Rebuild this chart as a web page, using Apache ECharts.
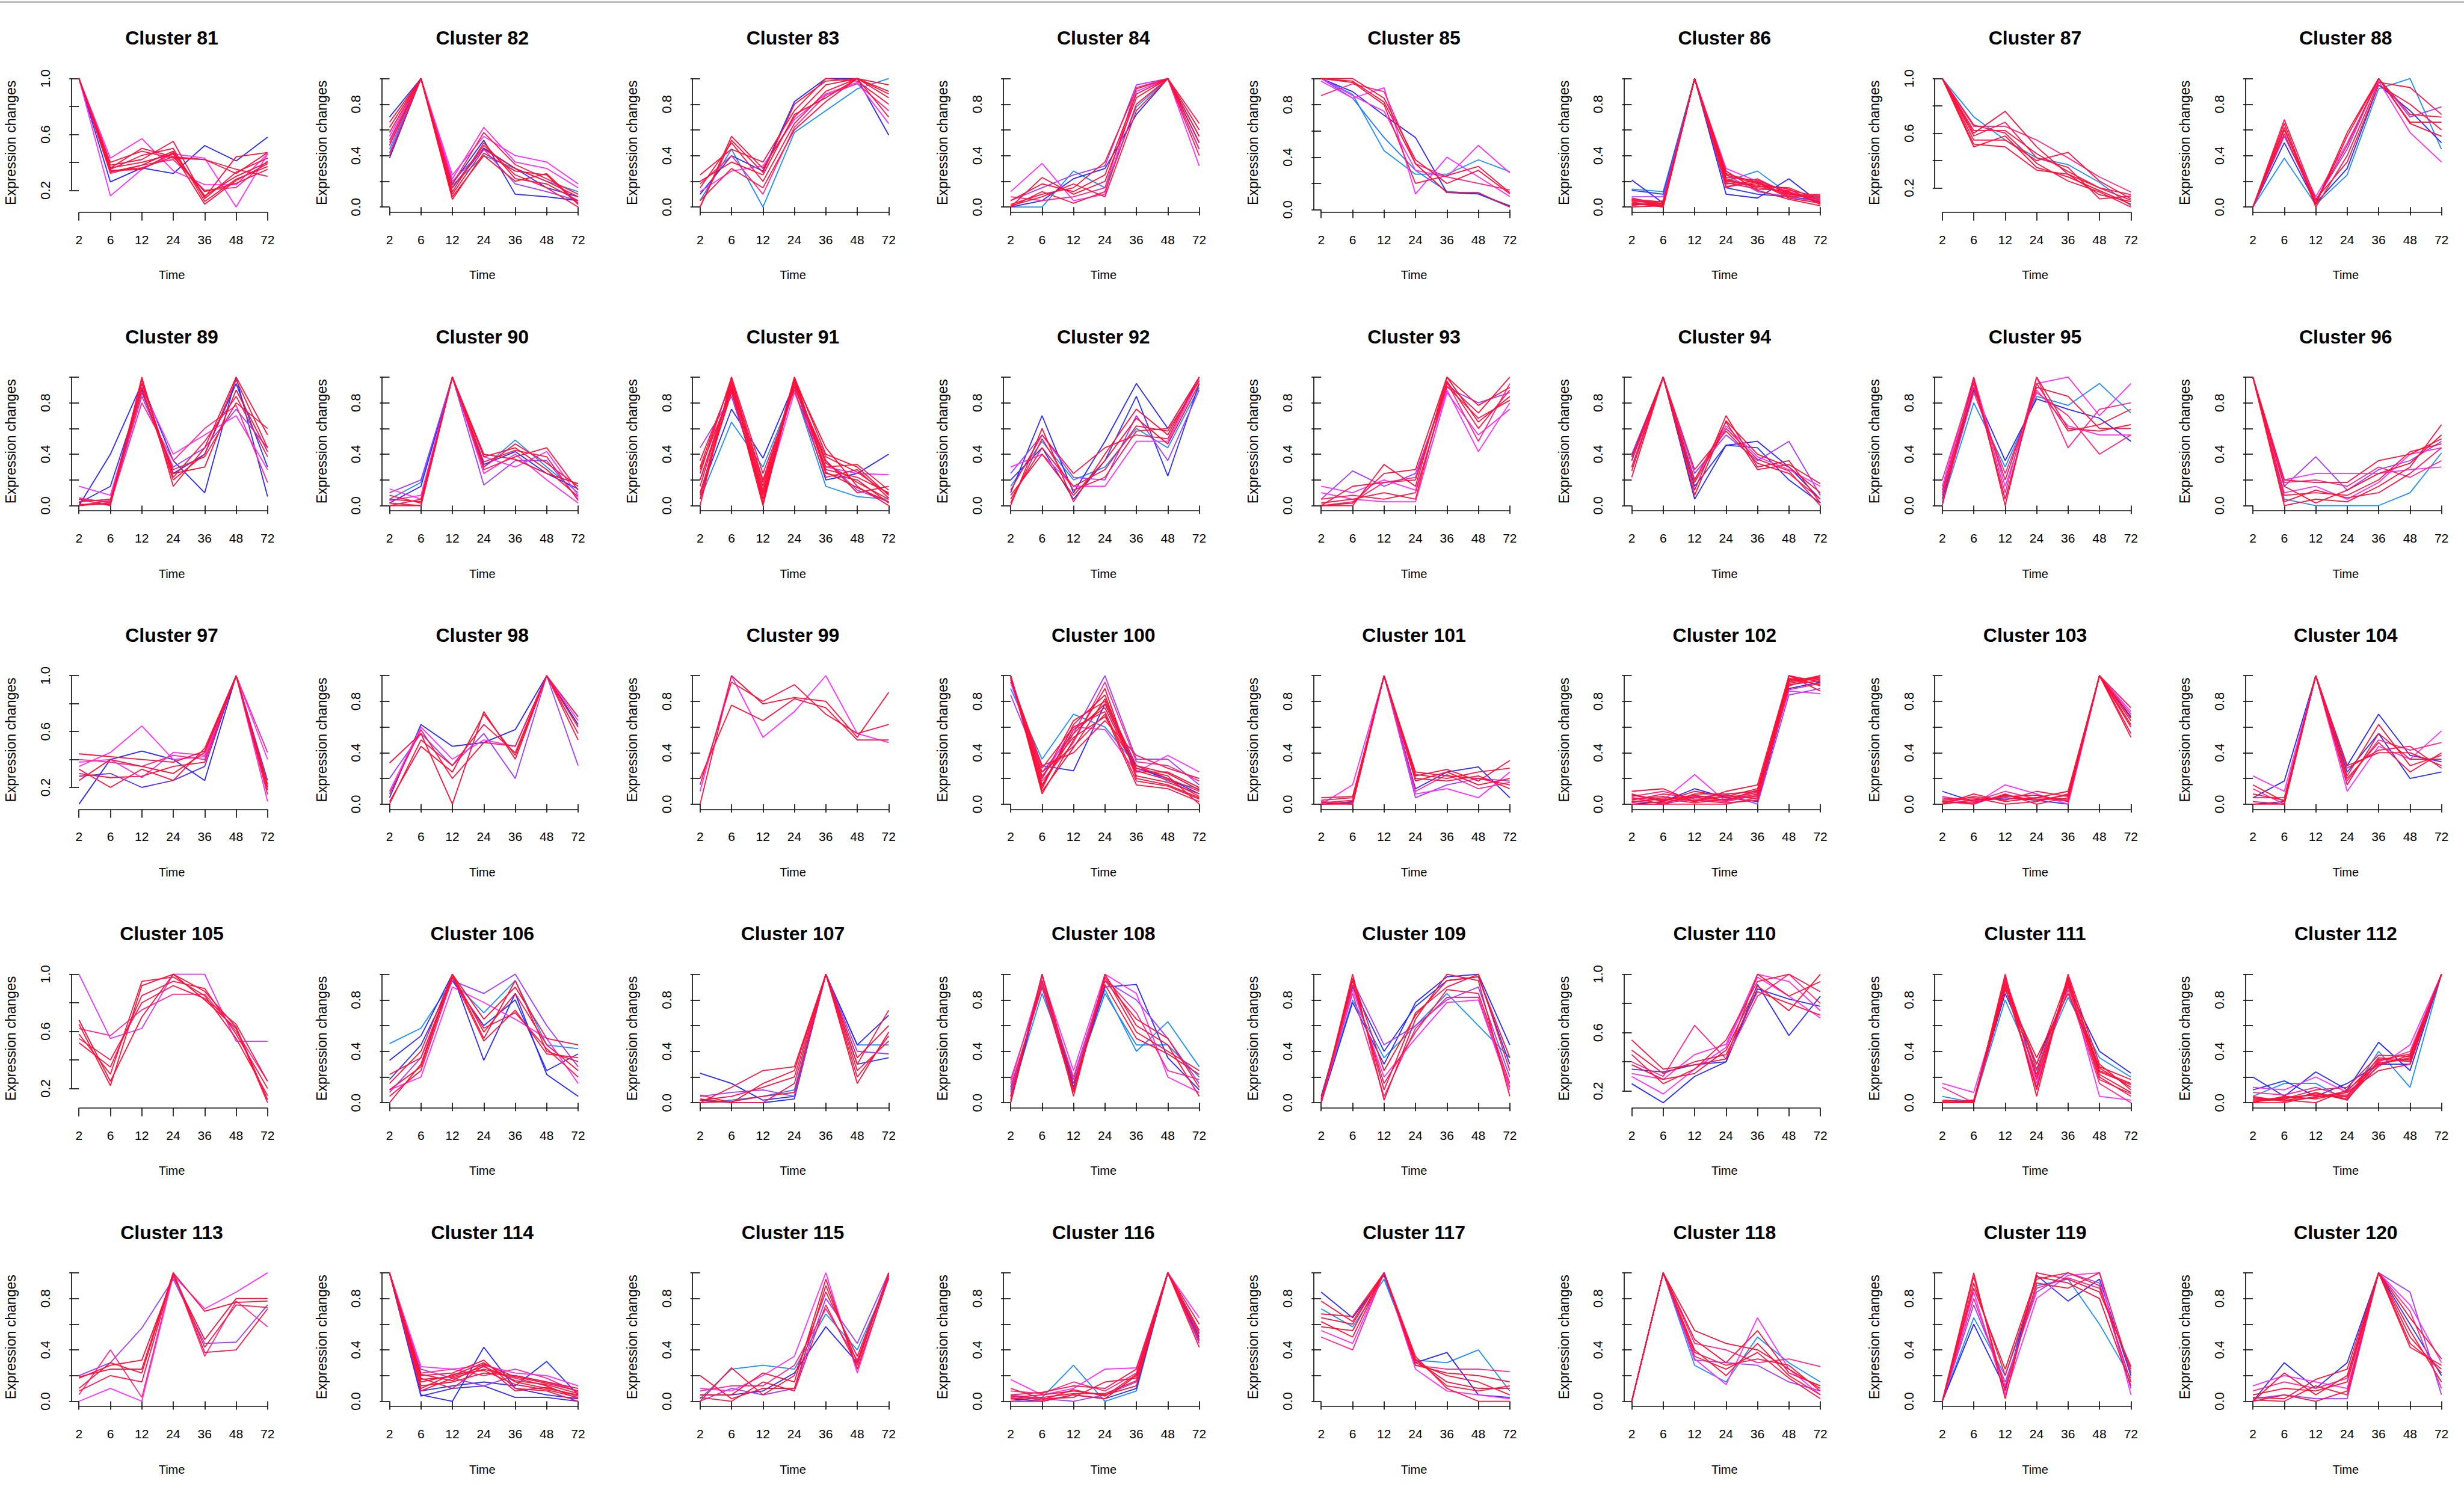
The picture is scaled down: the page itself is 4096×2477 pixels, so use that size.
<!DOCTYPE html>
<html>
<head>
<meta charset="utf-8">
<script src="https://cdn.jsdelivr.net/npm/echarts@6/dist/echarts.min.js"></script>
<style>
html,body{margin:0;padding:0;background:#fff;}
#chart{width:4096px;height:2477px;}
</style>
</head>
<body>
<div id="chart"></div>
<script>
const timeLabels = ['2','6','12','24','36','48','72'];
const clusterIds = [81,82,83,84,85,86,87,88,89,90,91,92,93,94,95,96,97,98,99,100,101,102,103,104,105,106,107,108,109,110,111,112,113,114,115,116,117,118,119,120];
const xTitle = 'Time';
const yTitle = 'Expression changes';

const c81 = [[1,0.26,0.36,0.32,0.52,0.41,0.58],[1,0.16,0.35,0.46,0.43,0.08,0.46],[1,0.43,0.57,0.34,0.24,0.24,0.46],[1,0.34,0.35,0.47,0.16,0.30,0.40],[1,0.35,0.45,0.50,0.12,0.28,0.37],[1,0.36,0.50,0.44,0.19,0.25,0.35],[1,0.38,0.42,0.55,0.14,0.33,0.43],[1,0.34,0.36,0.44,0.42,0.32,0.47],[1,0.33,0.38,0.48,0.15,0.44,0.47],[1,0.40,0.48,0.43,0.42,0.35,0.30],[1,0.36,0.40,0.46,0.10,0.27,0.39],[1,0.32,0.38,0.42,0.20,0.22,0.41]];
const m81 = [0.22,0.58,0.6,0.95,0.92,0.97,0.9,0.93,0.96,0.88,0.94,0.8];
const c82 = [[0.38,1,0.18,0.52,0.10,0.08,0.05],[0.70,1,0.15,0.46,0.30,0.15,0.08],[0.45,1,0.17,0.40,0.30,0.20,0.12],[0.55,1,0.25,0.55,0.40,0.35,0.18],[0.50,1,0.22,0.62,0.35,0.30,0.15],[0.42,1,0.20,0.45,0.18,0.12,0.05],[0.48,1,0.06,0.42,0.28,0.25,0.02],[0.58,1,0.12,0.50,0.22,0.18,0.05],[0.62,1,0.10,0.45,0.30,0.20,0.08],[0.40,1,0.15,0.48,0.25,0.15,0.00],[0.52,1,0.18,0.58,0.33,0.22,0.10],[0.66,1,0.08,0.40,0.20,0.26,0.03]];
const m82 = [0.22,0.2,0.05,0.58,0.62,0.42,0.95,0.92,0.97,0.9,0.88,0.94];
const c83 = [[0.05,0.45,0.00,0.58,0.75,0.92,1.0],[0.10,0.40,0.28,0.82,1.0,1.0,0.56],[0.00,0.55,0.30,0.70,0.95,1.0,0.85],[0.15,0.50,0.20,0.65,0.90,1.0,0.90],[0.25,0.45,0.35,0.75,1.0,0.98,0.80],[0.20,0.35,0.25,0.72,0.85,1.0,0.95],[0.05,0.30,0.15,0.60,0.82,1.0,0.70],[0.12,0.28,0.32,0.68,0.88,0.97,0.65],[0.00,0.52,0.27,0.80,0.98,1.0,0.88],[0.18,0.40,0.10,0.62,0.87,0.96,0.75]];
const m83 = [0.05,0.22,0.95,0.92,0.9,0.97,0.88,0.58,0.94,0.78];
const c84 = [[0,0,0.28,0.15,0.78,1.0,0.55],[0,0.05,0.22,0.30,0.72,1.0,0.50],[0.12,0.34,0.05,0.10,0.90,1.0,0.32],[0.05,0.15,0.25,0.32,0.95,1.0,0.45],[0,0.23,0.10,0.20,0.85,1.0,0.55],[0.02,0.10,0.15,0.35,0.92,1.0,0.60],[0,0.12,0.03,0.12,0.80,1.0,0.40],[0.05,0.18,0.12,0.25,0.88,1.0,0.50],[0.01,0.08,0.18,0.08,0.75,1.0,0.65],[0.08,0.05,0.08,0.15,0.93,1.0,0.45]];
const m84 = [0.05,0.22,0.58,0.42,0.95,0.92,0.9,0.97,0.88,0.78];
const c85 = [[1.0,0.88,0.45,0.27,0.27,0.38,0.29],[1.0,0.90,0.72,0.55,0.13,0.12,0.03],[1.0,0.85,0.55,0.30,0.14,0.12,0.02],[0.98,0.85,0.93,0.12,0.40,0.25,0.10],[1.0,0.87,0.75,0.30,0.25,0.49,0.28],[0.87,0.96,0.90,0.35,0.25,0.20,0.15],[1.0,1.0,0.85,0.38,0.20,0.30,0.12],[1.0,0.97,0.80,0.20,0.26,0.33,0.13],[1.0,0.98,0.82,0.35,0.13,0.13,0.02]];
const m85 = [0.05,0.22,0.08,0.58,0.6,0.8,0.95,0.92,0.97];
const c86 = [[0.21,0.03,1.0,0.10,0.07,0.22,0.03],[0.13,0.10,1.0,0.15,0.10,0.08,0.05],[0.14,0.12,1.0,0.20,0.28,0.10,0.08],[0.08,0.08,1.0,0.25,0.12,0.08,0.04],[0.06,0.02,1.0,0.30,0.20,0.12,0.05],[0.04,0.00,1.0,0.20,0.17,0.10,0.06],[0.02,0.02,1.0,0.22,0.15,0.12,0.03],[0.06,0.04,1.0,0.18,0.20,0.08,0.09],[0.00,0.01,1.0,0.25,0.18,0.14,0.02],[0.03,0.00,1.0,0.15,0.22,0.10,0.07],[0.05,0.03,1.0,0.28,0.13,0.06,0.01],[0.01,0.05,1.0,0.21,0.16,0.15,0.05],[0.07,0.02,1.0,0.16,0.19,0.09,0.10],[0.03,0.01,1.0,0.23,0.21,0.11,0.04],[0.05,0.02,1.0,0.19,0.14,0.13,0.08],[0.02,0.03,1.0,0.26,0.19,0.07,0.03]];
const m86 = [0.22,0.2,0.05,0.42,0.58,0.95,0.92,0.9,0.97,0.88,0.94,0.91,0.86,0.93,0.89,0.96];
const c87 = [[1.0,0.72,0.55,0.42,0.37,0.24,0.07],[1.0,0.60,0.76,0.50,0.30,0.15,0.10],[1.0,0.55,0.55,0.40,0.46,0.25,0.12],[1.0,0.62,0.62,0.45,0.32,0.20,0.15],[1.0,0.50,0.58,0.35,0.28,0.18,0.08],[1.0,0.58,0.68,0.42,0.35,0.12,0.14],[1.0,0.66,0.60,0.38,0.25,0.17,0.06],[1.0,0.65,0.65,0.55,0.42,0.28,0.17],[1.0,0.52,0.50,0.33,0.30,0.20,0.11]];
const m87 = [0.05,0.95,0.92,0.9,0.97,0.88,0.94,0.78,0.91];
const c88 = [[0,0.38,0.02,0.25,0.92,1.0,0.45],[0,0.50,0.03,0.30,0.95,0.75,0.50],[0,0.55,0.05,0.45,1.0,0.70,0.78],[0,0.60,0.08,0.50,0.98,0.58,0.35],[0,0.65,0.02,0.55,1.0,0.66,0.66],[0,0.60,0.05,0.48,1.0,0.72,0.70],[0,0.62,0.00,0.40,0.97,0.93,0.72],[0,0.57,0.03,0.58,1.0,0.65,0.55],[0,0.68,0.06,0.35,0.95,0.80,0.60]];
const m88 = [0.05,0.22,0.42,0.6,0.95,0.92,0.9,0.97,0.88];
const c89 = [[0.0,0.40,0.95,0.35,0.10,1.0,0.07],[0.02,0.15,0.90,0.25,0.40,0.95,0.30],[0.15,0.08,0.92,0.40,0.55,0.70,0.28],[0.05,0.03,0.85,0.30,0.45,0.75,0.45],[0.05,0.00,1.0,0.15,0.45,1.0,0.55],[0.0,0.02,0.92,0.20,0.40,0.98,0.45],[0.03,0.05,0.88,0.28,0.38,0.80,0.60],[0.01,0.01,0.95,0.25,0.30,0.90,0.42],[0.06,0.02,0.80,0.35,0.60,0.78,0.18],[0.0,0.04,0.98,0.22,0.50,0.85,0.38]];
const m89 = [0.22,0.2,0.58,0.42,0.95,0.92,0.9,0.97,0.78,0.88];
const c90 = [[0.05,0.18,1.0,0.30,0.51,0.30,0.10],[0.02,0.15,1.0,0.32,0.42,0.25,0.13],[0.10,0.20,1.0,0.16,0.35,0.35,0.05],[0.13,0.05,1.0,0.38,0.30,0.42,0.08],[0.04,0.08,1.0,0.25,0.40,0.20,0.02],[0.00,0.00,1.0,0.38,0.45,0.28,0.07],[0.08,0.02,1.0,0.30,0.48,0.33,0.15],[0.02,0.00,1.0,0.28,0.38,0.45,0.12],[0.05,0.03,1.0,0.40,0.36,0.25,0.17],[0.00,0.05,1.0,0.34,0.43,0.38,0.04]];
const m90 = [0.05,0.22,0.42,0.58,0.62,0.95,0.92,0.9,0.97,0.88];
const c91 = [[0.05,0.65,0.30,0.90,0.15,0.07,0.05],[0.10,0.75,0.37,0.95,0.20,0.25,0.40],[0.45,0.85,0.10,0.92,0.35,0.12,0.03],[0.20,0.90,0.05,0.88,0.30,0.25,0.24],[0.00,1.0,0.02,1.0,0.40,0.30,0.08],[0.15,0.95,0.15,0.97,0.25,0.20,0.02],[0.30,0.98,0.20,0.93,0.30,0.32,0.12],[0.05,0.92,0.00,0.98,0.45,0.15,0.00],[0.25,1.0,0.25,0.90,0.22,0.28,0.06],[0.10,0.88,0.08,0.95,0.35,0.10,0.15],[0.35,0.96,0.12,1.0,0.28,0.22,0.10],[0.20,0.93,0.10,0.96,0.33,0.18,0.05],[0.08,0.97,0.18,0.92,0.38,0.26,0.09],[0.28,0.90,0.05,0.99,0.26,0.14,0.03]];
const m91 = [0.05,0.22,0.42,0.58,0.95,0.92,0.9,0.97,0.88,0.94,0.91,0.93,0.89,0.96];
const c92 = [[0.10,0.70,0.10,0.50,0.95,0.60,1.0],[0.20,0.45,0.05,0.35,0.85,0.23,0.95],[0.15,0.50,0.20,0.30,0.60,0.45,0.92],[0.30,0.40,0.15,0.15,0.50,0.50,0.98],[0.25,0.55,0.22,0.20,0.70,0.35,0.90],[0.00,0.60,0.03,0.40,0.75,0.55,1.0],[0.05,0.45,0.15,0.28,0.62,0.58,0.97],[0.12,0.55,0.25,0.45,0.55,0.52,1.0],[0.08,0.40,0.08,0.35,0.68,0.48,0.95],[0.02,0.52,0.12,0.22,0.58,0.60,1.0]];
const m92 = [0.22,0.2,0.05,0.58,0.42,0.95,0.92,0.9,0.97,0.88];
const c93 = [[0.05,0.27,0.15,0.25,0.92,0.80,0.88],[0.15,0.10,0.20,0.12,0.90,0.42,0.80],[0.10,0.05,0.03,0.03,0.88,0.55,0.75],[0.00,0.00,0.32,0.15,1.0,0.65,0.85],[0.00,0.15,0.18,0.20,0.95,0.72,1.0],[0.02,0.05,0.10,0.05,0.97,0.60,0.90],[0.00,0.02,0.25,0.28,1.0,0.78,0.92],[0.05,0.08,0.05,0.10,0.93,0.68,0.82],[0.00,0.03,0.18,0.22,0.96,0.50,0.95]];
const m93 = [0.42,0.58,0.62,0.95,0.92,0.9,0.97,0.88,0.78];
const c94 = [[0.35,1.0,0.05,0.47,0.50,0.30,0.05],[0.38,1.0,0.15,0.47,0.45,0.20,0.02],[0.40,1.0,0.25,0.55,0.35,0.50,0.08],[0.30,1.0,0.20,0.62,0.38,0.28,0.15],[0.22,1.0,0.12,0.70,0.30,0.35,0.02],[0.35,1.0,0.20,0.65,0.28,0.32,0.17],[0.30,1.0,0.28,0.58,0.33,0.25,0.05],[0.38,1.0,0.08,0.66,0.40,0.30,0.10],[0.27,1.0,0.18,0.60,0.36,0.27,0.00]];
const m94 = [0.22,0.2,0.42,0.58,0.95,0.92,0.9,0.97,0.88];
const c95 = [[0.02,0.80,0.30,0.85,0.78,0.95,0.72],[0.05,0.90,0.35,0.83,0.75,0.68,0.50],[0.10,0.95,0.05,0.95,1.0,0.70,0.95],[0.15,1.0,0.15,0.90,0.62,0.55,0.55],[0.20,0.98,0.10,1.0,0.45,0.75,0.80],[0.00,1.0,0.00,1.0,0.60,0.58,0.63],[0.08,0.92,0.20,0.92,0.85,0.60,0.60],[0.12,0.96,0.05,0.95,0.58,0.63,0.75],[0.03,0.88,0.25,0.88,0.70,0.40,0.55]];
const m95 = [0.05,0.22,0.58,0.62,0.78,0.95,0.92,0.9,0.8];
const c96 = [[1.0,0.05,0.0,0.0,0.0,0.10,0.41],[1.0,0.15,0.38,0.12,0.28,0.35,0.50],[1.0,0.20,0.25,0.25,0.25,0.28,0.30],[1.0,0.10,0.15,0.05,0.18,0.40,0.45],[1.0,0.00,0.05,0.03,0.15,0.30,0.63],[1.0,0.20,0.18,0.18,0.35,0.40,0.52],[1.0,0.08,0.10,0.08,0.20,0.42,0.48],[1.0,0.15,0.02,0.12,0.25,0.33,0.55],[1.0,0.03,0.12,0.06,0.10,0.25,0.45],[1.0,0.18,0.20,0.15,0.30,0.22,0.35]];
const m96 = [0.05,0.42,0.58,0.62,0.95,0.92,0.9,0.97,0.88,0.78];
const c97 = [[0.08,0.40,0.46,0.40,0.25,1.0,0.20],[0.28,0.30,0.20,0.25,0.35,1.0,0.25],[0.35,0.45,0.64,0.40,0.42,1.0,0.40],[0.38,0.40,0.27,0.45,0.43,1.0,0.10],[0.44,0.42,0.40,0.38,0.46,1.0,0.15],[0.30,0.27,0.28,0.35,0.38,1.0,0.20],[0.33,0.20,0.33,0.25,0.48,1.0,0.18],[0.25,0.40,0.35,0.30,0.45,1.0,0.22],[0.40,0.38,0.35,0.43,0.40,1.0,0.45]];
const m97 = [0.22,0.3,0.58,0.62,0.95,0.92,0.9,0.97,0.78];
const c98 = [[0.05,0.62,0.45,0.48,0.58,1.0,0.62],[0.20,0.55,0.30,0.55,0.20,1.0,0.30],[0.32,0.55,0.00,0.72,0.35,1.0,0.55],[0.00,0.50,0.30,0.62,0.40,1.0,0.68],[0.08,0.58,0.20,0.48,0.45,1.0,0.50],[0.02,0.45,0.25,0.70,0.38,1.0,0.60],[0.10,0.60,0.35,0.50,0.45,1.0,0.65]];
const m98 = [0.22,0.42,0.95,0.92,0.9,0.97,0.58];
const c99 = [[0.00,1.0,0.78,0.83,0.80,0.52,0.87],[0.20,0.77,0.65,0.82,0.75,0.50,0.50],[0.15,0.95,0.80,0.93,0.70,0.55,0.62],[0.10,1.0,0.52,0.72,1.0,0.55,0.48]];
const m99 = [0.95,0.92,0.9,0.58];
const c100 = [[0.95,0.30,0.26,0.78,0.28,0.20,0.08],[0.90,0.35,0.70,0.60,0.30,0.18,0.12],[0.85,0.25,0.55,1.0,0.35,0.35,0.15],[0.95,0.20,0.60,0.58,0.25,0.38,0.25],[1.0,0.08,0.50,0.90,0.20,0.15,0.05],[1.0,0.20,0.65,0.80,0.30,0.20,0.10],[0.98,0.25,0.45,0.70,0.15,0.12,0.02],[1.0,0.15,0.58,0.75,0.25,0.25,0.13],[0.97,0.30,0.40,0.65,0.38,0.28,0.20],[1.0,0.12,0.62,0.85,0.22,0.17,0.08],[0.99,0.22,0.52,0.68,0.28,0.22,0.00],[1.0,0.18,0.48,0.95,0.33,0.30,0.18],[1.0,0.14,0.55,0.78,0.26,0.19,0.06],[0.98,0.28,0.60,0.72,0.18,0.14,0.04],[1.0,0.10,0.44,0.82,0.30,0.24,0.11]];
const m100 = [0.22,0.05,0.42,0.58,0.95,0.92,0.9,0.97,0.88,0.94,0.91,0.78,0.93,0.89,0.96];
const c101 = [[0.0,0.02,1.0,0.12,0.25,0.29,0.05],[0.02,0.0,1.0,0.05,0.15,0.20,0.18],[0.0,0.15,1.0,0.08,0.12,0.05,0.25],[0.05,0.06,1.0,0.25,0.22,0.20,0.15],[0.0,0.0,1.0,0.22,0.27,0.18,0.34],[0.03,0.05,1.0,0.20,0.18,0.22,0.12],[0.0,0.01,1.0,0.18,0.25,0.15,0.20],[0.01,0.03,1.0,0.23,0.20,0.25,0.28],[0.02,0.0,1.0,0.10,0.23,0.12,0.17]];
const m101 = [0.22,0.42,0.58,0.95,0.92,0.9,0.97,0.88,0.78];
const c102 = [[0.0,0.0,0.05,0.08,0.0,0.85,0.90],[0.0,0.02,0.12,0.05,0.02,0.90,0.95],[0.05,0.03,0.23,0.02,0.10,0.88,0.86],[0.10,0.12,0.02,0.10,0.15,1.0,0.95],[0.0,0.0,0.0,0.0,0.05,0.95,1.0],[0.03,0.08,0.05,0.03,0.08,1.0,0.92],[0.08,0.02,0.10,0.06,0.12,0.97,0.98],[0.01,0.05,0.03,0.01,0.03,0.92,1.0],[0.05,0.00,0.08,0.08,0.10,1.0,0.88],[0.02,0.04,0.01,0.04,0.06,0.93,0.96],[0.06,0.10,0.04,0.02,0.07,0.89,0.94],[0.02,0.01,0.06,0.05,0.09,0.96,0.97],[0.04,0.06,0.02,0.07,0.04,0.98,0.93],[0.07,0.03,0.07,0.03,0.11,0.94,0.99]];
const m102 = [0.42,0.22,0.58,0.95,0.92,0.9,0.97,0.88,0.94,0.91,0.78,0.93,0.89,0.96];
const c103 = [[0.10,0.02,0.05,0.03,0.0,1.0,0.68],[0.05,0.0,0.15,0.08,0.0,1.0,0.72],[0.0,0.08,0.02,0.05,0.10,1.0,0.55],[0.02,0.0,0.08,0.0,0.05,1.0,0.65],[0.04,0.05,0.0,0.02,0.08,1.0,0.75],[0.0,0.03,0.06,0.07,0.02,1.0,0.60],[0.01,0.06,0.03,0.10,0.06,1.0,0.52],[0.06,0.02,0.10,0.04,0.03,1.0,0.70],[0.03,0.04,0.04,0.05,0.04,1.0,0.62],[0.02,0.01,0.07,0.03,0.07,1.0,0.67]];
const m103 = [0.22,0.58,0.95,0.92,0.9,0.97,0.88,0.78,0.93,0.96];
const c104 = [[0.05,0.18,1.0,0.30,0.70,0.38,0.33],[0.0,0.02,1.0,0.25,0.55,0.20,0.25],[0.22,0.10,1.0,0.10,0.45,0.35,0.57],[0.12,0.0,1.0,0.18,0.50,0.42,0.48],[0.15,0.02,1.0,0.30,0.40,0.40,0.30],[0.0,0.0,1.0,0.22,0.62,0.30,0.38],[0.05,0.05,1.0,0.28,0.42,0.45,0.28],[0.02,0.0,1.0,0.15,0.55,0.35,0.35],[0.08,0.03,1.0,0.20,0.48,0.25,0.40]];
const m104 = [0.22,0.2,0.58,0.78,0.95,0.92,0.9,0.97,0.88];
const c105 = [[1.0,0.55,0.62,1.0,1.0,0.53,0.53],[0.62,0.57,0.75,0.86,0.86,0.60,0.25],[0.65,0.22,0.92,1.0,0.82,0.62,0.10],[0.58,0.30,0.95,0.98,0.85,0.55,0.15],[0.52,0.35,0.85,0.95,0.90,0.58,0.20],[0.68,0.25,0.70,1.0,0.88,0.63,0.12],[0.55,0.40,0.80,0.92,0.83,0.65,0.25]];
const m105 = [0.52,0.78,0.95,0.92,0.9,0.97,0.88];
const c106 = [[0.46,0.58,0.95,0.70,0.95,0.45,0.42],[0.33,0.52,1.0,0.33,0.85,0.22,0.05],[0.18,0.45,0.95,0.60,0.80,0.25,0.38],[0.08,0.35,0.95,0.85,1.0,0.60,0.28],[0.10,0.20,0.90,0.78,0.65,0.50,0.15],[0.00,0.30,1.0,0.50,0.95,0.40,0.32],[0.15,0.40,1.0,0.55,0.85,0.45,0.25],[0.22,0.35,0.98,0.48,0.72,0.38,0.35],[0.10,0.28,1.0,0.65,0.90,0.50,0.45],[0.05,0.25,0.97,0.58,0.70,0.42,0.20]];
const m106 = [0.05,0.22,0.2,0.42,0.58,0.95,0.92,0.9,0.97,0.88];
const c107 = [[0.23,0.15,0.02,0.05,1.0,0.45,0.68],[0.02,0.0,0.0,0.03,1.0,0.30,0.35],[0.0,0.02,0.05,0.10,1.0,0.45,0.45],[0.05,0.08,0.10,0.05,1.0,0.40,0.38],[0.06,0.00,0.15,0.25,1.0,0.15,0.55],[0.0,0.12,0.25,0.28,1.0,0.30,0.72],[0.02,0.05,0.12,0.20,1.0,0.25,0.48],[0.0,0.01,0.05,0.08,1.0,0.35,0.60],[0.03,0.00,0.00,0.15,1.0,0.20,0.52]];
const m107 = [0.22,0.2,0.08,0.42,0.95,0.92,0.9,0.97,0.88];
const c108 = [[0.05,0.85,0.20,0.88,0.40,0.63,0.28],[0.10,0.90,0.15,0.85,0.45,0.45,0.20],[0.0,0.95,0.12,0.90,0.92,0.35,0.10],[0.08,0.92,0.18,0.95,0.80,0.50,0.15],[0.15,0.98,0.25,1.0,0.85,0.20,0.08],[0.0,1.0,0.05,1.0,0.60,0.45,0.05],[0.05,0.95,0.10,0.98,0.55,0.40,0.25],[0.12,0.90,0.08,0.95,0.65,0.50,0.12],[0.02,1.0,0.15,0.92,0.50,0.38,0.22],[0.18,0.93,0.20,0.97,0.70,0.25,0.18]];
const m108 = [0.05,0.08,0.22,0.42,0.58,0.95,0.92,0.9,0.97,0.78];
const c109 = [[0.03,0.80,0.35,0.60,0.85,0.60,0.35],[0.0,0.78,0.30,0.78,0.98,1.0,0.45],[0.05,0.90,0.40,0.75,0.95,0.98,0.30],[0.02,0.95,0.45,0.60,0.80,0.90,0.20],[0.0,0.88,0.20,0.50,0.78,0.80,0.10],[0.0,1.0,0.02,0.65,1.0,0.95,0.05],[0.03,0.95,0.10,0.70,0.90,1.0,0.25],[0.01,0.92,0.15,0.55,0.88,0.85,0.15],[0.0,0.97,0.25,0.68,0.95,0.98,0.35],[0.02,0.85,0.05,0.58,0.82,0.82,0.12]];
const m109 = [0.05,0.22,0.2,0.42,0.58,0.95,0.92,0.9,0.97,0.78];
const c110 = [[0.25,0.12,0.30,0.40,0.93,0.58,0.85],[0.35,0.33,0.38,0.40,0.90,0.83,0.78],[0.30,0.18,0.35,0.50,0.98,0.85,0.70],[0.32,0.28,0.45,0.52,1.0,0.95,0.75],[0.40,0.30,0.65,0.42,0.85,1.0,0.80],[0.55,0.35,0.38,0.42,1.0,0.85,0.95],[0.48,0.32,0.40,0.45,0.88,0.80,0.72],[0.45,0.25,0.35,0.55,0.95,1.0,0.88],[0.38,0.28,0.32,0.48,0.92,0.75,1.0]];
const m110 = [0.22,0.2,0.58,0.62,0.78,0.95,0.92,0.9,0.97];
const c111 = [[0.05,0.0,0.80,0.25,0.82,0.35,0.20],[0.0,0.02,0.85,0.30,0.90,0.40,0.23],[0.15,0.08,0.90,0.15,0.95,0.05,0.02],[0.12,0.0,0.95,0.20,0.88,0.15,0.00],[0.0,0.0,1.0,0.05,1.0,0.30,0.10],[0.0,0.0,0.92,0.30,0.97,0.25,0.15],[0.02,0.01,0.98,0.18,0.93,0.20,0.05],[0.0,0.0,0.88,0.35,0.85,0.28,0.18],[0.01,0.0,0.95,0.10,0.98,0.22,0.08],[0.0,0.01,0.93,0.22,0.95,0.27,0.12],[0.01,0.0,0.97,0.26,0.91,0.18,0.07],[0.0,0.02,0.90,0.12,0.96,0.24,0.14]];
const m111 = [0.05,0.22,0.58,0.78,0.95,0.92,0.9,0.97,0.88,0.93,0.89,0.96];
const c112 = [[0.20,0.05,0.24,0.10,0.47,0.25,1.0],[0.05,0.15,0.15,0.02,0.40,0.12,1.0],[0.10,0.17,0.05,0.15,0.30,0.30,1.0],[0.12,0.10,0.20,0.08,0.28,0.45,1.0],[0.0,0.0,0.05,0.05,0.35,0.33,1.0],[0.02,0.02,0.0,0.10,0.30,0.35,1.0],[0.05,0.01,0.08,0.02,0.33,0.38,1.0],[0.0,0.05,0.03,0.08,0.25,0.30,1.0],[0.03,0.03,0.10,0.12,0.37,0.36,1.0],[0.08,0.06,0.12,0.04,0.32,0.40,1.0],[0.02,0.04,0.06,0.06,0.31,0.34,1.0],[0.04,0.02,0.04,0.09,0.34,0.32,1.0],[0.01,0.03,0.07,0.03,0.29,0.37,1.0]];
const m112 = [0.22,0.05,0.2,0.58,0.95,0.92,0.9,0.97,0.88,0.78,0.93,0.89,0.96];
const c113 = [[0.20,0.30,0.57,0.95,0.45,0.46,0.75],[0.0,0.10,0.0,0.98,0.72,0.85,1.0],[0.05,0.40,0.03,1.0,0.35,0.78,0.58],[0.19,0.25,0.25,1.0,0.70,0.77,0.78],[0.10,0.30,0.22,1.0,0.38,0.40,0.72],[0.08,0.20,0.15,1.0,0.42,0.75,0.73],[0.18,0.28,0.32,0.97,0.48,0.80,0.80]];
const m113 = [0.42,0.58,0.78,0.95,0.92,0.9,0.97];
const c114 = [[1.0,0.05,0.0,0.42,0.10,0.05,0.02],[1.0,0.08,0.12,0.15,0.12,0.31,0.05],[1.0,0.04,0.10,0.12,0.03,0.03,0.0],[1.0,0.25,0.18,0.12,0.20,0.15,0.08],[1.0,0.27,0.25,0.28,0.22,0.20,0.12],[1.0,0.15,0.20,0.30,0.15,0.10,0.05],[1.0,0.08,0.18,0.25,0.18,0.12,0.02],[1.0,0.20,0.22,0.32,0.10,0.08,0.0],[1.0,0.12,0.15,0.22,0.20,0.15,0.10],[1.0,0.18,0.10,0.28,0.08,0.11,0.04],[1.0,0.22,0.25,0.20,0.25,0.18,0.07],[1.0,0.17,0.19,0.27,0.16,0.13,0.06],[1.0,0.10,0.21,0.24,0.13,0.09,0.03],[1.0,0.21,0.16,0.29,0.19,0.14,0.08]];
const m114 = [0.22,0.2,0.25,0.42,0.58,0.95,0.92,0.9,0.97,0.88,0.78,0.93,0.89,0.96];
const c115 = [[0.02,0.25,0.28,0.25,0.68,0.40,0.95],[0.05,0.05,0.08,0.22,0.58,0.30,0.98],[0.0,0.10,0.05,0.10,0.80,0.45,1.0],[0.10,0.08,0.20,0.35,1.0,0.22,0.97],[0.20,0.02,0.10,0.10,0.90,0.30,1.0],[0.0,0.26,0.05,0.20,0.85,0.35,0.98],[0.03,0.0,0.15,0.08,0.75,0.28,1.0],[0.05,0.05,0.22,0.15,0.95,0.25,0.96],[0.08,0.12,0.12,0.28,0.72,0.32,0.99]];
const m115 = [0.05,0.22,0.42,0.58,0.95,0.92,0.9,0.97,0.78];
const c116 = [[0.0,0.03,0.28,0.0,0.08,1.0,0.55],[0.02,0.0,0.05,0.02,0.10,1.0,0.50],[0.05,0.02,0.0,0.05,0.15,1.0,0.45],[0.17,0.05,0.10,0.25,0.26,1.0,0.65],[0.0,0.0,0.05,0.02,0.20,1.0,0.48],[0.05,0.07,0.12,0.10,0.25,1.0,0.55],[0.10,0.02,0.03,0.15,0.18,1.0,0.42],[0.03,0.05,0.08,0.05,0.12,1.0,0.60],[0.08,0.06,0.15,0.08,0.22,1.0,0.52],[0.02,0.03,0.06,0.06,0.16,1.0,0.53],[0.04,0.01,0.09,0.04,0.21,1.0,0.47]];
const m116 = [0.05,0.22,0.42,0.58,0.95,0.92,0.9,0.97,0.78,0.93,0.89];
const c117 = [[0.85,0.65,0.98,0.30,0.38,0.05,0.03],[0.72,0.58,0.95,0.32,0.30,0.40,0.08],[0.55,0.45,1.0,0.25,0.08,0.05,0.02],[0.50,0.40,1.0,0.28,0.25,0.25,0.23],[0.65,0.60,1.0,0.32,0.15,0.10,0.10],[0.78,0.62,1.0,0.30,0.20,0.15,0.05],[0.62,0.50,1.0,0.35,0.10,0.0,0.00],[0.58,0.55,1.0,0.28,0.22,0.20,0.15],[0.68,0.66,1.0,0.33,0.12,0.08,0.12]];
const m117 = [0.22,0.05,0.58,0.78,0.95,0.92,0.9,0.97,0.88];
const c118 = [[0.0,1.0,0.28,0.15,0.50,0.30,0.15],[0.0,1.0,0.33,0.13,0.65,0.25,0.05],[0.0,1.0,0.32,0.30,0.28,0.15,0.08],[0.0,1.0,0.45,0.40,0.30,0.33,0.27],[0.0,1.0,0.55,0.45,0.40,0.25,0.10],[0.0,1.0,0.40,0.20,0.45,0.20,0.05],[0.0,1.0,0.35,0.25,0.38,0.18,0.02],[0.0,1.0,0.48,0.30,0.55,0.22,0.12],[0.0,1.0,0.38,0.28,0.33,0.28,0.08]];
const m118 = [0.05,0.58,0.42,0.78,0.95,0.92,0.9,0.97,0.88];
const c119 = [[0.0,0.60,0.10,0.98,0.78,0.95,0.20],[0.0,0.65,0.20,0.90,0.95,0.60,0.18],[0.0,0.75,0.15,0.85,1.0,0.92,0.10],[0.0,0.85,0.05,0.80,0.98,1.0,0.05],[0.0,1.0,0.02,1.0,0.95,0.85,0.27],[0.0,0.92,0.20,0.95,1.0,0.90,0.15],[0.0,0.97,0.08,0.92,0.88,1.0,0.22],[0.0,0.88,0.25,0.97,0.92,0.80,0.12],[0.0,0.80,0.12,0.88,0.96,0.88,0.25]];
const m119 = [0.22,0.05,0.42,0.58,0.95,0.92,0.9,0.97,0.78];
const c120 = [[0.0,0.30,0.10,0.30,1.0,0.60,0.20],[0.02,0.05,0.02,0.02,1.0,0.85,0.05],[0.12,0.20,0.15,0.10,1.0,0.75,0.30],[0.0,0.22,0.05,0.20,1.0,0.45,0.25],[0.03,0.02,0.17,0.25,1.0,0.55,0.15],[0.0,0.05,0.0,0.08,1.0,0.42,0.28],[0.05,0.10,0.08,0.15,1.0,0.65,0.33],[0.01,0.0,0.12,0.05,1.0,0.50,0.22],[0.08,0.15,0.10,0.18,1.0,0.70,0.10]];
const m120 = [0.22,0.42,0.58,0.95,0.92,0.9,0.97,0.88,0.78];

const lineSets = [c81,c82,c83,c84,c85,c86,c87,c88,c89,c90,c91,c92,c93,c94,c95,c96,c97,c98,c99,c100,c101,c102,c103,c104,c105,c106,c107,c108,c109,c110,c111,c112,c113,c114,c115,c116,c117,c118,c119,c120];
const memberSets = [m81,m82,m83,m84,m85,m86,m87,m88,m89,m90,m91,m92,m93,m94,m95,m96,m97,m98,m99,m100,m101,m102,m103,m104,m105,m106,m107,m108,m109,m110,m111,m112,m113,m114,m115,m116,m117,m118,m119,m120];

// ---- styling / layout ----
const S = 4096 / 4935;
const FONT = "'Liberation Sans', Arial, Helvetica, sans-serif";
const colorStops = [
  [0.00, [30, 170, 255]],
  [0.22, [40, 40, 255]],
  [0.42, [160, 60, 255]],
  [0.58, [255, 48, 255]],
  [0.78, [255, 40, 140]],
  [0.88, [255, 25, 72]],
  [1.00, [255, 12, 48]]
];
function memberColor(m) {
  for (let i = 1; i < colorStops.length; i++) {
    if (m <= colorStops[i][0]) {
      const a = colorStops[i - 1], b = colorStops[i];
      const t = (m - a[0]) / (b[0] - a[0]);
      const c = a[1].map((v, k) => Math.round(v + (b[1][k] - v) * t));
      return 'rgb(' + c.join(',') + ')';
    }
  }
  return 'rgb(' + colorStops[colorStops.length - 1][1].join(',') + ')';
}
function ticksFor(lo, hi) {
  const t = [];
  for (let k = Math.ceil(lo / 0.2 - 1e-9); k * 0.2 <= hi + 1e-9; k++) t.push(Math.round(k * 2) / 10);
  return t;
}

const grids = [], xAxes = [], yAxes = [], series = [], graphics = [];
graphics.push({type: 'line', silent: true, shape: {x1: 0, y1: 3.5, x2: 4096, y2: 3.5}, style: {stroke: '#b0b0b0', lineWidth: 2.5}});

clusterIds.forEach((id, i) => {
  const col = i % 8, row = Math.floor(i / 8);
  const ox = col * 622 * S, oy = row * 598 * S;
  const lines = lineSets[i], mem = memberSets[i];
  let dmin = Infinity, dmax = -Infinity;
  lines.forEach(l => l.forEach(v => { dmin = Math.min(dmin, v); dmax = Math.max(dmax, v); }));
  const pad = 0.04 * (dmax - dmin);
  const lo = dmin - pad, hi = dmax + pad;
  const yt = ticksFor(lo, hi);
  const yl = yt.filter((_, j) => j % 2 === 0);

  grids.push({left: ox + 143 * S, top: oy + 147 * S, width: 408 * S, height: 278 * S});
  xAxes.push({
    gridIndex: i, type: 'value', min: -0.24, max: 6.24,
    axisLine: {show: false}, splitLine: {show: false},
    axisTick: {show: true, customValues: [0,1,2,3,4,5,6], length: 14, lineStyle: {color: '#111', width: 1.7}},
    axisLabel: {show: true, customValues: [0,1,2,3,4,5,6], formatter: v => timeLabels[Math.round(v)], margin: 35, fontSize: 21, color: '#000', fontFamily: FONT}
  });
  yAxes.push({
    gridIndex: i, type: 'value', min: lo, max: hi,
    axisLine: {show: false}, splitLine: {show: false},
    axisTick: {show: true, customValues: yt, length: 16, lineStyle: {color: '#111', width: 1.7}},
    axisLabel: {show: true, customValues: yl, rotate: 90, margin: 32, fontSize: 22, color: '#000', fontFamily: FONT, formatter: v => v.toFixed(1)}
  });

  const order = lines.map((l, k) => k).sort((a, b) => mem[a] - mem[b]);
  order.forEach((k, n) => {
    const c = memberColor(mem[k]);
    const s = {
      type: 'line', xAxisIndex: i, yAxisIndex: i, silent: true, clip: false,
      symbol: 'none', animation: false,
      data: lines[k].map((v, t) => [t, v]),
      lineStyle: {color: c, width: 1.8}, itemStyle: {color: c}
    };
    if (n === 0) {
      s.markLine = {
        silent: true, symbol: ['none', 'none'], label: {show: false}, animation: false,
        lineStyle: {color: '#111', width: 1.7, type: 'solid'}, emphasis: {disabled: true},
        data: [
          [{coord: [-0.24, yt[yt.length - 1]]}, {coord: [-0.24, yt[0]]}],
          [{coord: [0, lo]}, {coord: [6, lo]}]
        ]
      };
    }
    series.push(s);
  });

  graphics.push({type: 'text', silent: true, x: ox + 344 * S, y: oy + 76.5 * S,
    style: {text: 'Cluster ' + id, fontSize: 32, fontWeight: 'bold', fontFamily: FONT, fill: '#000',
      textAlign: 'center', textVerticalAlign: 'middle', align: 'center', verticalAlign: 'middle'}});
  graphics.push({type: 'text', silent: true, x: ox + 344 * S, y: oy + 551 * S,
    style: {text: xTitle, fontSize: 20, fontFamily: FONT, fill: '#000',
      textAlign: 'center', textVerticalAlign: 'middle', align: 'center', verticalAlign: 'middle'}});
  graphics.push({type: 'text', silent: true, x: ox + 22 * S, y: oy + 286 * S, rotation: Math.PI / 2,
    style: {text: yTitle, fontSize: 23, fontFamily: FONT, fill: '#000',
      textAlign: 'center', textVerticalAlign: 'middle', align: 'center', verticalAlign: 'middle'}});
});

const chart = echarts.init(document.getElementById('chart'), null, {renderer: 'svg', width: 4096, height: 2477});
chart.setOption({
  backgroundColor: '#ffffff',
  animation: false,
  grid: grids, xAxis: xAxes, yAxis: yAxes, series: series, graphic: graphics
});
</script>
</body>
</html>
